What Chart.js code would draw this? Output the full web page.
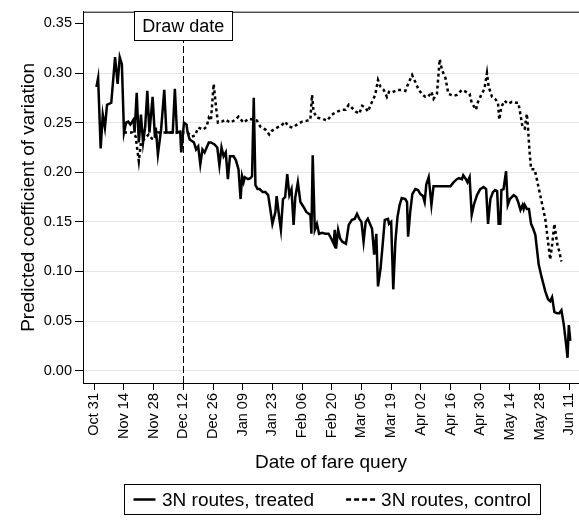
<!DOCTYPE html>
<html><head><meta charset="utf-8">
<script src="https://cdn.jsdelivr.net/npm/chart.js@4.4.1/dist/chart.umd.min.js"></script>
<style>html,body{margin:0;padding:0;background:#fff}</style>
</head><body>
<canvas id="c" width="579" height="520"></canvas>
<script>
// ---- data ----
const xTickDays = [0,14,28,42,56,70,84,98,112,126,140,154,168,182,196,210,224];
const xTickLabels = ["Oct 31","Nov 14","Nov 28","Dec 12","Dec 26","Jan 09","Jan 23","Feb 06","Feb 20","Mar 05","Mar 19","Apr 02","Apr 16","Apr 30","May 14","May 28","Jun 11"];
const yTickValues = [0,0.05,0.10,0.15,0.20,0.25,0.30,0.35];
const yTickLabels = ["0.00","0.05","0.10","0.15","0.20","0.25","0.30","0.35"];
const drawDateDay = 42;
const drawDateLabel = "Draw date";
const seriesLabels = ["3N routes, treated","3N routes, control"];
const xTitle = "Date of fare query";
const yTitle = "Predicted coefficient of variation";

const treatedDays = [1,1.8,3,4,5,6,8,9.8,11,12,13,14,15,16,17,18.5,19,20,21,22,23,24,25,26,27.5,28.6,29,30,31.5,33,34,35.5,37,38,39,40.5,41,42.3,43.5,44,45,47,48,49,50,51,52,54,55,56.7,58,59,60,61,62,63,64,65.7,66.8,68,69,69.7,70.4,71,72.5,73.6,74.4,75.2,76,77,78,79.4,80.7,82,83,84,85.4,86,87.3,88,89,90,91,92,93,94,94.8,96,97.2,98.7,100,101.9,102.4,103,104,105,106,107.4,109,110.5,111.8,112.9,113.4,114,115,116,117,118.7,120,121.5,122.8,123.9,125,126,127,128,129,130,131,132,133,133.8,135,136,137,138.5,139,140,141,142,143,144,145,146.7,147.5,148,149,150,151.4,152.7,153.8,155,155.8,156.6,157.7,159,160,168,169.5,171,172,173.4,174,175.3,176,177,178,179,180.5,182,183.6,184.8,185.7,186.8,188,189,190,190.7,191.5,192,193,194.2,195,196,197.8,199,199.9,201,202,202.5,203,204,205,206,207,208,209.6,211,212.7,214,215,215.9,217,218.3,219.3,220.3,221.4,222.5,223.2,223.8,224.5];
const treatedValues = [0.286,0.295,0.224,0.258,0.245,0.268,0.270,0.316,0.289,0.316,0.309,0.240,0.250,0.251,0.248,0.253,0.240,0.280,0.230,0.258,0.230,0.246,0.282,0.240,0.276,0.235,0.245,0.218,0.243,0.283,0.240,0.240,0.240,0.284,0.240,0.241,0.220,0.250,0.248,0.240,0.233,0.230,0.223,0.226,0.208,0.223,0.220,0.230,0.230,0.228,0.225,0.207,0.225,0.216,0.220,0.193,0.216,0.216,0.212,0.203,0.173,0.196,0.190,0.195,0.193,0.194,0.196,0.275,0.187,0.183,0.183,0.180,0.180,0.177,0.163,0.148,0.160,0.176,0.153,0.142,0.173,0.175,0.198,0.177,0.183,0.147,0.175,0.190,0.170,0.165,0.160,0.157,0.138,0.217,0.142,0.148,0.138,0.139,0.138,0.138,0.133,0.128,0.142,0.123,0.142,0.133,0.130,0.128,0.147,0.152,0.153,0.158,0.153,0.150,0.130,0.150,0.153,0.148,0.143,0.117,0.138,0.085,0.103,0.127,0.152,0.153,0.148,0.150,0.082,0.130,0.155,0.167,0.174,0.173,0.170,0.135,0.160,0.178,0.183,0.182,0.178,0.176,0.170,0.188,0.195,0.167,0.186,0.186,0.190,0.193,0.194,0.193,0.197,0.193,0.190,0.195,0.157,0.167,0.177,0.183,0.185,0.183,0.148,0.173,0.180,0.182,0.181,0.148,0.148,0.182,0.183,0.201,0.167,0.173,0.177,0.175,0.170,0.162,0.167,0.163,0.167,0.163,0.163,0.148,0.143,0.137,0.107,0.094,0.080,0.072,0.070,0.074,0.059,0.058,0.058,0.061,0.047,0.027,0.013,0.046,0.030];

const controlDays = [14,16,18,19.5,21,22,25.6,27.1,28.5,30,33,36,39,42,44,46,47.5,49,51.4,53,54,55,56.3,57.4,58.3,60.2,61.8,64.2,66.5,68,70.4,72.8,75.1,76.7,78.3,80.7,82.5,83.8,86.2,88.2,90,91.7,93.5,95.6,98,100.3,101.9,102.7,103.4,105,107.4,109.8,112,114.5,116.8,118.5,120,121.5,123.4,125,126.3,128,129,131,132.5,133.8,135,136.5,138,139,140,142.8,145,146.7,148,149.9,151.4,153,154.9,156.1,157.5,159,160,161.6,162.9,164,165.6,167,169.5,171,173.4,175.3,177,178,180,181,182.5,184,185.2,186,187.6,189,190.4,191,192,193.5,195,197,198.9,200,201,202,203,204,204.6,205.2,206,207.7,209.3,211,212.7,214,215,216,217,218.3,219.3,220.3];
const controlValues = [0.240,0.240,0.240,0.236,0.211,0.230,0.238,0.234,0.233,0.240,0.240,0.240,0.240,0.240,0.240,0.236,0.237,0.245,0.243,0.246,0.255,0.252,0.289,0.266,0.250,0.251,0.253,0.250,0.253,0.256,0.250,0.254,0.253,0.252,0.246,0.243,0.238,0.242,0.245,0.247,0.251,0.246,0.245,0.248,0.251,0.252,0.253,0.278,0.261,0.255,0.254,0.252,0.258,0.261,0.263,0.263,0.268,0.265,0.261,0.259,0.267,0.265,0.261,0.271,0.278,0.293,0.286,0.283,0.276,0.281,0.280,0.283,0.283,0.282,0.289,0.298,0.291,0.283,0.278,0.276,0.276,0.281,0.274,0.279,0.314,0.303,0.295,0.279,0.277,0.278,0.283,0.281,0.279,0.270,0.263,0.271,0.278,0.284,0.300,0.286,0.276,0.274,0.270,0.253,0.266,0.272,0.269,0.271,0.270,0.270,0.258,0.245,0.244,0.259,0.243,0.223,0.203,0.203,0.187,0.170,0.153,0.130,0.112,0.128,0.148,0.128,0.120,0.110];

// ---- chart ----
const FONT = "'Liberation Sans', Arial, Helvetica, sans-serif";
Chart.defaults.font.family = FONT;
Chart.defaults.color = '#000';

const toPoints = (xs, ys) => xs.map((x, i) => ({x: x, y: ys[i]}));

const framePlugin = {
  id: 'frame',
  beforeDatasetsDraw(chart) {
    const {ctx, chartArea: a, scales} = chart;
    ctx.save();
    ctx.strokeStyle = '#000';
    ctx.lineWidth = 1;
    ctx.beginPath();
    ctx.moveTo(a.left, a.top + 0.5);
    ctx.lineTo(a.right, a.top + 0.5);
    ctx.stroke();
    const x = Math.round(scales.x.getPixelForValue(drawDateDay)) + 0.5;
    ctx.setLineDash([7, 3]);
    ctx.beginPath();
    ctx.moveTo(x, a.bottom);
    ctx.lineTo(x, a.top);
    ctx.stroke();
    ctx.restore();
  },
  afterDatasetsDraw(chart) {
    const {ctx, chartArea: a, scales} = chart;
    const x = scales.x.getPixelForValue(drawDateDay);
    ctx.save();
    ctx.font = '18px ' + FONT;
    const w = ctx.measureText(drawDateLabel).width + 16;
    const h = 29;
    const left = Math.round(x - w / 2) + 0.5;
    const top = Math.round(a.top) - 0.5;
    ctx.fillStyle = '#fff';
    ctx.fillRect(left, top, w, h);
    ctx.strokeStyle = '#000';
    ctx.lineWidth = 1;
    ctx.strokeRect(left, top, w, h);
    ctx.fillStyle = '#000';
    ctx.textAlign = 'center';
    ctx.textBaseline = 'middle';
    ctx.fillText(drawDateLabel, x, top + h / 2 + 1);
    ctx.restore();
  },
  afterDraw(chart) {
    const {ctx} = chart;
    ctx.save();
    ctx.font = '19px ' + FONT;
    const boxLeft = 124.5, boxTop = 484.5, boxH = 30;
    const cy = boxTop + boxH / 2;
    let cx = boxLeft + 9;
    const items = chart.data.datasets.map((ds, i) => ({ds, sample: i === 0 ? 22 : 30}));
    ctx.textBaseline = 'middle';
    ctx.textAlign = 'left';
    items.forEach((it, i) => {
      ctx.strokeStyle = '#000';
      ctx.lineWidth = 2.5;
      ctx.setLineDash(i === 0 ? [] : [5, 3]);
      ctx.beginPath();
      ctx.moveTo(cx, cy);
      ctx.lineTo(cx + it.sample, cy);
      ctx.stroke();
      cx += it.sample + (i === 0 ? 6.5 : 5);
      ctx.fillStyle = '#000';
      ctx.fillText(it.ds.label, cx, cy + 1);
      cx += ctx.measureText(it.ds.label).width + (i === 0 ? 32 : 9);
    });
    ctx.setLineDash([]);
    ctx.lineWidth = 1;
    ctx.strokeRect(boxLeft, boxTop, Math.round(cx - boxLeft), boxH);
    ctx.restore();
  }
};

new Chart(document.getElementById('c'), {
  type: 'line',
  data: {
    datasets: [
      {label: seriesLabels[0], data: toPoints(treatedDays, treatedValues), borderColor: '#000', borderWidth: 2.5, pointRadius: 0, tension: 0, fill: false, borderJoinStyle: 'miter'},
      {label: seriesLabels[1], data: toPoints(controlDays, controlValues), borderColor: '#000', borderWidth: 2.5, borderDash: [3, 3], pointRadius: 0, tension: 0, fill: false}
    ]
  },
  options: {
    responsive: false,
    devicePixelRatio: 1,
    animation: false,
    layout: {padding: {left: 0, right: 0, top: 7, bottom: 0}},
    plugins: {legend: {display: false}, tooltip: {enabled: false}},
    scales: {
      x: {
        type: 'linear', min: -5.33, max: 228.6,
        afterBuildTicks: s => { s.ticks = xTickDays.map(v => ({value: v})); },
        afterFit: s => { s.height = 137; s.paddingLeft = 0; s.paddingRight = 0; },
        ticks: {autoSkip: false, minRotation: 90, maxRotation: 90, padding: 3, color: '#000',
          font: {size: 14.5, family: FONT},
          callback: (v, i) => xTickLabels[i]},
        grid: {drawOnChartArea: false, drawTicks: true, tickLength: 7, color: '#000', tickColor: '#000'},
        border: {display: true, color: '#000', width: 1},
        title: {display: true, text: xTitle, color: '#000', font: {size: 19, family: FONT}, padding: {top: 0, bottom: 46}}
      },
      y: {
        min: -0.0124, max: 0.3618,
        afterBuildTicks: s => { s.ticks = yTickValues.map(v => ({value: v})); },
        afterFit: s => { s.width = 83; },
        ticks: {padding: 3, color: '#000', font: {size: 14.5, family: FONT},
          callback: (v, i) => yTickLabels[i]},
        grid: {color: c => (c.tick && c.tick.value > 0.349) ? 'rgba(0,0,0,0)' : '#e6e6e6',
          tickColor: '#000', tickLength: 8, lineWidth: 1},
        border: {display: true, color: '#000', width: 1},
        title: {display: true, text: yTitle, color: '#000', font: {size: 19, family: FONT}, padding: {top: 17, bottom: 0}}
      }
    }
  },
  plugins: [framePlugin]
});
</script>
</body></html>
